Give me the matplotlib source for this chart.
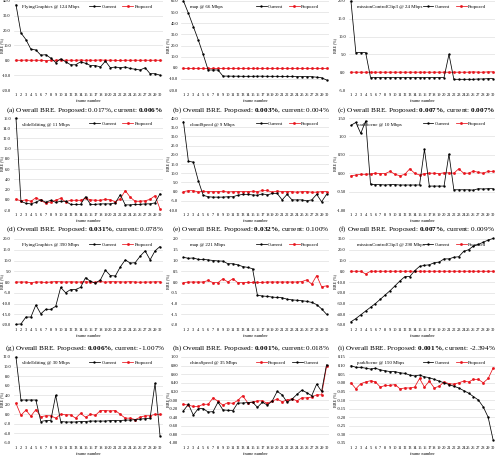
import numpy as np
import matplotlib.pyplot as plt

plt.rcParams['font.family'] = 'Liberation Serif'
plt.rcParams['mathtext.fontset'] = 'custom'
plt.rcParams['mathtext.rm'] = 'Liberation Serif'
plt.rcParams['mathtext.bf'] = 'Liberation Serif:bold'

frames = np.arange(1, 31)

# panel titles (sequence @ bitrate)
titles = ["FlyingGraphics @ 124 Mbps", "map @ 66 Mbps", "missionControlClip3 @ 24 Mbps",
          "slideEditing @ 11 Mbps", "cloudSpeed @ 9 Mbps", "parkScene @ 10 Mbps",
          "FlyingGraphics @ 390 Mbps", "map @ 221 Mbps", "missionControlClip3 @ 290 Mbps",
          "slideEditing @ 30 Mbps", "chinaSpeed @ 35 Mbps", "parkScene @ 150 Mbps"]

# BRE (%) per frame, current rate control
cur_fg124 = [37.5, 18.5, 14, 7.5, 7, 3.5, 3.8, 1.5, -1.5, 1, -1, -3, -3, -1, -2, -3.5, -3.5, -4.5, -0.5, -5,
             -4.5, -5, -4.5, -5.5, -6, -6.5, -5, -9, -9, -10]
cur_map66 = [60, 49, 37, 25, 12, -2, -2, -2, -7.5, -7.5, -7.6, -7.6, -7.7, -7.7, -7.7, -7.6, -7.6, -7.7, -7.7, -7.7,
             -7.8, -7.8, -7.8, -7.9, -7.9, -8, -8, -8.5, -9, -11]
cur_mcc24 = [20, 5.5, 5.5, 5.5, -1.5, -1.5, -1.5, -1.5, -1.5, -1.5, -1.5, -1.5, -1.5, -1.5, -1.5, -1.5, -1.5, -1.5,
             -1.5, -1.5, 5, -2, -2, -2, -2, -2, -1.9, -1.9, -1.8, -1.8]
cur_se11 = [16, -0.3, -0.7, -0.8, -0.5, 0, -0.5, -0.1, -0.5, -0.3, -0.3, -0.9, -0.9, -0.9, 0.6, -0.9, -0.9, -0.8,
            -0.8, -0.8, -0.6, 1.0, -1.0, -1.0, -0.9, -0.9, -0.8, -0.8, -0.6, 1.2]
cur_cs9 = [38, 16.5, 16, 6, -2, -2.8, -3, -3, -3, -2.8, -2.8, -2, -1.5, -1.5, -1.8, -2, -1.2, -1.8, -1, -1,
           -4.5, -1.5, -4.5, -4.5, -4.5, -5, -4.5, -1.5, -5.5, -1.5]
cur_ps10 = [1.3, 1.38, 1.08, 1.42, -0.3, -0.31, -0.31, -0.32, -0.31, -0.31, -0.32, -0.32, -0.32, -0.32, -0.32, 0.65,
            -0.35, -0.35, -0.35, -0.35, 0.52, -0.45, -0.45, -0.45, -0.45, -0.46, -0.42, -0.43, -0.42, -0.42]
cur_fg390 = [-19.7, -19.5, -16.3, -16.3, -10.7, -14.8, -12.7, -12.7, -11.3, -2.5, -5, -3.5, -3.5, -2.5, 2, 0.3, -0.5,
             1, 5.5, 3, 2.8, 7, 10.3, 8.8, 9, 12, 14.5, 10.3, 14.5, 16.5]
cur_map221 = [1.15, 1.1, 1.12, 1.05, 1.05, 1.03, 1.0, 0.98, 0.97, 0.85, 0.85, 0.8, 0.72, 0.68, 0.62, -0.62, -0.65,
              -0.67, -0.7, -0.72, -0.73, -0.8, -0.83, -0.85, -0.87, -0.9, -0.95, -1.05, -1.25, -1.5]
cur_mcc290 = [-47, -44, -40.5, -37, -33.5, -30, -26, -22, -18, -13.5, -9, -5, -5, 0.5, 4.5, 5.5, 6, 8, 8.5, 11.5,
              11.5, 13, 13.5, 18.5, 20, 23.5, 25, 27, 29, 30.5]
cur_se30 = [12, 3, 3, 3, 3, -1.5, -1.3, -1.3, 4, -1.5, -1.6, -1.6, -1.6, -1.5, -1.5, -1.4, -1.4, -1.4, -1.4, -1.3,
            -1.3, -1.3, -1.2, -1.2, -1.1, -1.0, -0.9, -0.8, 6.5, -4.5]
cur_cs35 = [-0.25, -0.1, -0.35, -0.2, -0.2, -0.28, -0.27, -0.05, -0.23, -0.24, -0.25, -0.07, -0.07, -0.06, -0.05,
            -0.17, -0.05, -0.12, -0.02, 0.2, 0.12, -0.05, 0.02, 0.13, 0.23, 0.17, 0.1, 0.37, 0.2, 0.82]
cur_ps150 = [0.10, 0.09, 0.09, 0.085, 0.08, 0.085, 0.075, 0.07, 0.065, 0.065, 0.058, 0.055, 0.045, 0.04, 0.045,
             0.035, 0.03, 0.02, 0.01, 0.0, -0.01, -0.02, -0.03, -0.045, -0.06, -0.08, -0.1, -0.14, -0.2, -0.33]

# BRE (%) per frame, proposed rate control
pro_fg124 = [0.1, 0, 0.2, 0, 0.1, 0, -0.2, 0.1, 0, 0.3, 0, 0.1, 0, 0.2, 0, 0.1, 0, 0.3, 0, 0.1,
             0, -0.1, 0.1, 0, 0.1, 0, 0.1, 0, 0.1, 0]
pro_map66 = [0, 0, 0, 0, 0, 0, 0, 0, 0, 0, 0, 0, 0, 0, 0, 0, 0, 0, 0, 0,
             0, 0, 0, 0, 0, 0, 0, 0, 0, 0]
pro_mcc24 = [0, 0, 0, 0, 0, 0, 0, 0, 0, 0, 0, 0, 0, 0, 0, 0, 0, 0, 0, 0,
             0, 0, 0, 0, 0, 0.1, 0, 0, 0.1, 0.1]
pro_se11 = [0.1, -0.2, 0, -0.3, 0.4, -0.1, -0.7, -0.4, -0.1, 0.3, -0.4, -0.1, -0.1, -0.1, 0.3, 0, -0.1, -0.1,
            0.1, 0, -0.4, 0.2, 1.8, 0.5, -0.3, -0.3, -0.2, 0.1, 0.8, -1.8]
pro_cs9 = [0, 0.5, 0.5, -0.2, 0.2, 0, 0, 0, 0.2, -0.2, 0, 0, 0, 0, 0.2, 0, 0.6, 0.6, -0.3, 0.3,
           0, 0, 0, -0.3, 0, 0, -0.3, -0.3, 0, 0]
pro_ps10 = [-0.07, -0.05, -0.03, -0.03, -0.02, 0, -0.01, -0.01, 0.05, -0.03, -0.07, -0.03, 0.12, 0, -0.05,
            -0.01, 0, 0, -0.01, 0.01, 0.01, 0, 0.12, 0, 0, 0.06, 0.02, 0, 0.05, 0.05]
pro_fg390 = [0, 0, 0, -0.3, 0, 0, -0.2, 0, 0.2, 0.1, 0, 0.1, 0, 0, 0.1, 0, -0.2, 0.3, -0.1, 0.2,
             0.1, 0.1, 0, 0.2, 0, -0.1, 0, 0, 0.1, 0.1]
pro_map221 = [-0.03, 0, 0, 0, 0, 0.07, -0.03, -0.03, 0.15, 0, 0.15, -0.03, -0.03, -0.02, -0.02, -0.02, -0.02, 0, 0,
              0, 0, 0, 0, 0, 0.02, 0.1, -0.1, 0.3, -0.22, -0.18]
pro_mcc290 = [0, 0, 0, -2.5, 0, 0, 0, 0, 0, 0, 0, 0, 0, 0, 0, 0, 0, 0, 0, 0,
              0, 0, 0, 0, 0, 0, 0, 0, 0, 0]
pro_se30 = [2.3, -0.2, 0.9, -0.4, 1.0, -0.5, -0.3, -0.3, -0.8, 0, -0.1, -0.1, -0.8, 0.2, -0.6, 0, -0.2, 0.8, 0.8,
            0.7, 0.8, 0, -0.8, -0.8, -1.1, -0.6, -0.3, -0.3, 0, 0]
pro_cs35 = [-0.1, -0.12, -0.15, -0.15, -0.1, -0.1, 0.05, -0.03, -0.12, -0.06, -0.08, -0.01, 0.1, -0.06, -0.05,
            -0.02, -0.02, -0.08, -0.02, 0.02, -0.04, 0.0, 0.03, -0.02, 0.05, 0.05, 0.07, 0.12, 0.12, 0.78]
pro_ps150 = [0.0, -0.035, -0.005, 0.005, 0.012, 0.005, -0.025, -0.015, -0.015, -0.01, -0.035, -0.03, -0.03, -0.025,
             0.025, -0.025, 0.01, -0.03, -0.02, 0.005, -0.005, -0.008, 0.0, 0.01, 0.005, 0.02, 0.02, 0.0, 0.025, 0.085]

current = [cur_fg124, cur_map66, cur_mcc24, cur_se11, cur_cs9, cur_ps10,
           cur_fg390, cur_map221, cur_mcc290, cur_se30, cur_cs35, cur_ps150]
proposed = [pro_fg124, pro_map66, pro_mcc24, pro_se11, pro_cs9, pro_ps10,
            pro_fg390, pro_map221, pro_mcc290, pro_se30, pro_cs35, pro_ps150]

# y axis (min, max, step, format)
yaxes = [(-20, 40, 10, "%.1f"), (-20, 60, 10, "%.1f"), (-5, 20, 5, "%.1f"),
         (-2, 16, 2, "%.1f"), (-10, 40, 5, "%.1f"), (-1, 1.5, 0.5, "%.2f"),
         (-20, 20, 5, "%.1f"), (-2, 2, 0.5, "%.1f"), (-50, 30, 10, "%.1f"),
         (-6, 12, 2, "%.1f"), (-1, 1, 0.2, "%.2f"), (-0.35, 0.15, 0.05, "%.2f")]
proposed_first = [False] * 10 + [True, False]

captions = [r"(a) Overall BRE. Proposed: 0.017%, current: $\mathbf{0.006\%}$",
            r"(b) Overall BRE. Proposed: $\mathbf{0.003\%}$, current: 0.004%",
            r"(c) Overall BRE. Proposed: $\mathbf{0.007\%}$, current: $\mathbf{0.007\%}$",
            r"(d) Overall BRE. Proposed: $\mathbf{0.031\%}$, current: 0.078%",
            r"(e) Overall BRE. Proposed: $\mathbf{0.032\%}$, current: 0.100%",
            r"(f) Overall BRE. Proposed: $\mathbf{0.007\%}$, current: 0.009%",
            r"(g) Overall BRE. Proposed: $\mathbf{0.006\%}$, current: -1.007%",
            r"(h) Overall BRE. Proposed: $\mathbf{0.001\%}$, current: 0.018%",
            r"(i) Overall BRE. Proposed: $\mathbf{0.001\%}$, current: -2.394%"]

W, H = 500, 463
fig = plt.figure(figsize=(5, 4.63), dpi=100)

col_x = [(13.5, 149), (181, 148), (348.5, 147)]
row_y = [(1, 90), (118, 210), (239, 325), (357, 443)]
ylab_x = [1.8, 168, 335]

for i in range(12):
    r, c = divmod(i, 3)
    x0, w = col_x[c]
    top, bot = row_y[r]
    ax = fig.add_axes([x0 / W, 1 - bot / H, w / W, (bot - top) / H])
    lo, hi, step, fmt = yaxes[i]
    l1, = ax.plot(frames, current[i], color="black", lw=0.55, marker="o", ms=0.7, clip_on=False, zorder=3)
    l2, = ax.plot(frames, proposed[i], color="#e8141c", lw=0.55, marker="s", ms=0.9, clip_on=False, zorder=2)
    ax.set_xlim(0.5, 30.5)
    ax.set_ylim(lo, hi)
    ticks = np.round(np.arange(lo, hi + step / 2, step), 3)
    ax.set_yticks(ticks)
    ax.set_yticklabels([fmt % t for t in ticks])
    ax.set_xticks(frames)
    ax.set_xticklabels([str(f) for f in frames])
    ax.tick_params(length=0, labelsize=3.2, pad=2)
    ax.grid(axis="y", color="#dcdcdc", lw=0.45)
    ax.set_axisbelow(True)
    for s in ax.spines.values():
        s.set_visible(False)
    ax.set_xlabel("frame number", fontsize=3.2, labelpad=1.5)
    ax.set_ylabel("BRE (%)", fontsize=3.0, va="center")
    ax.yaxis.set_label_coords((ylab_x[c] - x0) / w, 0.5)
    ax.text(0.06, 0.95, titles[i], transform=ax.transAxes, fontsize=3.5, va="top")
    if proposed_first[i]:
        handles, labels = [l2, l1], ["Proposed", "Current"]
    else:
        handles, labels = [l1, l2], ["Current", "Proposed"]
    ax.legend(handles, labels, loc="upper center", bbox_to_anchor=(0.72, 1.01), ncol=2, frameon=False,
              fontsize=3.5, handlelength=2.2, columnspacing=1.2, handletextpad=0.3)

cap_x = [85, 251, 416]
cap_y = [110, 229, 348]
for k, txt in enumerate(captions):
    r, c = divmod(k, 3)
    fig.text(cap_x[c] / W, 1 - cap_y[r] / H, txt, fontsize=5.2, ha="center", va="center")

fig.savefig("out.png", dpi=100)
